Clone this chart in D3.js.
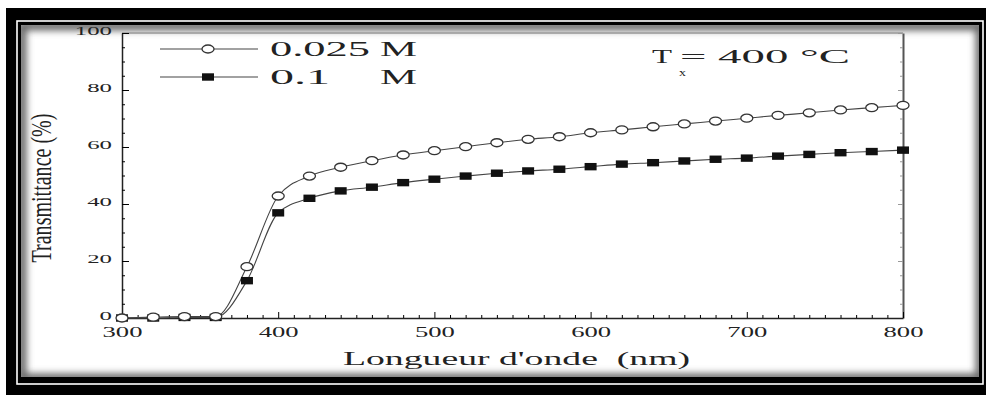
<!DOCTYPE html>
<html>
<head>
<meta charset="utf-8">
<script src="https://cdn.jsdelivr.net/npm/d3@7"></script>
<style>
  body { margin: 0; background: #fff; }
  text { font-family: "Liberation Serif", "DejaVu Serif", serif; fill: #222; white-space: pre; }
</style>
</head>
<body>
<svg id="drawing_region"></svg>
<script>
// wavelength (nm) and transmittance (%)
const wavelengths = [ 300, 320, 340, 360, 380, 400, 420, 440, 460, 480, 500, 520, 540,
                      560, 580, 600, 620, 640, 660, 680, 700, 720, 740, 760, 780, 800 ];
const trans_0025 = [ 0, 0.3, 0.5, 0.5, 18.0, 42.8, 49.8, 52.9, 55.2, 57.2, 58.7, 60.1, 61.5,
                     62.7, 63.6, 65.0, 66.0, 67.1, 68.1, 69.1, 70.1, 71.1, 72.0, 73.0, 73.8, 74.6 ];
const trans_01   = [ 0, 0, 0.2, 0.2, 13.1, 36.9, 42.0, 44.6, 45.9, 47.5, 48.7, 49.8, 50.8,
                     51.6, 52.2, 53.1, 54.0, 54.5, 55.1, 55.7, 56.1, 56.8, 57.4, 58.0, 58.4, 58.9 ];
const series_names = [ "0.025", "0.1" ];
const x_ticks = [ 300, 400, 500, 600, 700, 800 ];
const y_ticks = [ 0, 20, 40, 60, 80, 100 ];

var config = {
    parent: '#drawing_region',
    width: 986,
    height: 395,
    margin: { top:33, right:83, bottom:77, left:122 }
};

const svg = d3.select( config.parent )
    .attr( 'width', config.width )
    .attr( 'height', config.height );

// ---- frame: black border, white line, panel with inner shadow
svg.append( 'rect' )
    .attr( 'x', 6 ).attr( 'y', 8 )
    .attr( 'width', 1000 ).attr( 'height', 400 )
    .attr( 'fill', '#000' );
svg.append( 'rect' )
    .attr( 'x', 17 ).attr( 'y', 21 )
    .attr( 'width', 966 ).attr( 'height', 363 )
    .attr( 'fill', 'none' )
    .attr( 'stroke', '#fff' ).attr( 'stroke-width', 1.6 );

const panel = { x:21, y:25, w:958, h:352 };
const defs = svg.append( 'defs' );
defs.append( 'clipPath' ).attr( 'id', 'panel_clip' )
    .append( 'rect' )
    .attr( 'x', panel.x ).attr( 'y', panel.y )
    .attr( 'width', panel.w ).attr( 'height', panel.h );
defs.append( 'filter' ).attr( 'id', 'soft' )
    .attr( 'x', '-5%' ).attr( 'y', '-5%' ).attr( 'width', '110%' ).attr( 'height', '110%' )
    .append( 'feGaussianBlur' ).attr( 'stdDeviation', 3.5 );

svg.append( 'rect' )
    .attr( 'x', panel.x ).attr( 'y', panel.y )
    .attr( 'width', panel.w ).attr( 'height', panel.h )
    .attr( 'fill', '#fff' );
svg.append( 'g' )
    .attr( 'clip-path', 'url(#panel_clip)' )
    .append( 'rect' )
    .attr( 'x', panel.x + 1 ).attr( 'y', panel.y + 1 )
    .attr( 'width', panel.w ).attr( 'height', panel.h )
    .attr( 'fill', 'none' )
    .attr( 'stroke', '#666' ).attr( 'stroke-width', 9 )
    .attr( 'filter', 'url(#soft)' );

// ---- chart
const inner_width = config.width - config.margin.left - config.margin.right;
const inner_height = config.height - config.margin.top - config.margin.bottom;

const chart = svg.append( 'g' )
    .attr( 'transform', `translate(${config.margin.left}, ${config.margin.top})` );

const xscale = d3.scaleLinear()
    .domain( [ 300, 800 ] )
    .range( [ 0, inner_width ] );

const yscale = d3.scaleLinear()
    .domain( [ 0, 100 ] )
    .range( [ inner_height, 0 ] );

// minor ticks: every 10 nm and every 5 %
const x_minor = xscale.ticks( 50 ).filter( v => x_ticks.indexOf( v ) < 0 );
const y_minor = yscale.ticks( 20 ).filter( v => y_ticks.indexOf( v ) < 0 );

function stretch( sel, per_char ) {
    sel.attr( 'textLength', function() { return this.textContent.length * per_char; } )
       .attr( 'lengthAdjust', 'spacingAndGlyphs' );
}

// top and right frame lines
chart.append( 'line' )
    .attr( 'x1', 0 ).attr( 'x2', inner_width )
    .attr( 'y1', 0 ).attr( 'y2', 0 )
    .attr( 'stroke', '#999' ).attr( 'stroke-width', 1.5 );

const right_group = chart.append( 'g' )
    .attr( 'transform', `translate(${inner_width}, 0)` );
right_group.call( d3.axisRight( yscale ).tickValues( y_ticks ).tickFormat( '' )
    .tickSizeInner( -5 ).tickSizeOuter( 0 ) );
right_group.append( 'g' )
    .call( d3.axisRight( yscale ).tickValues( y_minor ).tickFormat( '' )
        .tickSizeInner( -3 ).tickSizeOuter( 0 ) )
    .select( '.domain' ).remove();
right_group.selectAll( 'line' ).attr( 'stroke', '#999' );
right_group.select( '.domain' ).attr( 'stroke', '#555' ).attr( 'stroke-width', 2 );

// x axis
const xaxis_group = chart.append( 'g' )
    .attr( 'transform', `translate(0, ${inner_height})` );
xaxis_group.call( d3.axisBottom( xscale )
    .tickValues( x_ticks )
    .tickFormat( d3.format( 'd' ) )
    .tickSizeInner( -6 ).tickSizeOuter( 0 ).tickPadding( 8 ) );
xaxis_group.append( 'g' )
    .call( d3.axisBottom( xscale ).tickValues( x_minor ).tickFormat( '' )
        .tickSizeInner( -3 ).tickSizeOuter( 0 ) )
    .select( '.domain' ).remove();
xaxis_group.selectAll( 'text' )
    .attr( 'font-size', 15 ).attr( 'fill', '#333' )
    .call( stretch, 13.3 );

// y axis
const yaxis_group = chart.append( 'g' );
yaxis_group.call( d3.axisLeft( yscale )
    .tickValues( y_ticks )
    .tickSizeInner( -7 ).tickSizeOuter( 0 ).tickPadding( 10 ) );
yaxis_group.append( 'g' )
    .call( d3.axisLeft( yscale ).tickValues( y_minor ).tickFormat( '' )
        .tickSizeInner( -3 ).tickSizeOuter( 0 ) )
    .select( '.domain' ).remove();
yaxis_group.selectAll( 'text' )
    .attr( 'font-size', 13 ).attr( 'fill', '#333' )
    .attr( 'dy', '0.12em' )
    .call( stretch, 12.4 );

xaxis_group.selectAll( '.domain' ).attr( 'stroke', '#222' ).attr( 'stroke-width', 1.5 );
yaxis_group.selectAll( '.domain' ).attr( 'stroke', '#222' ).attr( 'stroke-width', 1.5 );
chart.selectAll( '.tick line' ).attr( 'stroke-width', 1 );

// series
const series = [
    { name: series_names[0], values: trans_0025, symbol: 'circle' },
    { name: series_names[1], values: trans_01, symbol: 'square' }
];
series.forEach( s => {
    s.points = wavelengths.map( ( w, i ) => ( { x: w, y: s.values[i] } ) );
} );

const line = d3.line()
    .x( d => xscale( d.x ) )
    .y( d => yscale( d.y ) )
    .curve( d3.curveMonotoneX );

chart.selectAll( '.series_line' )
    .data( series )
    .join( 'path' )
    .attr( 'class', 'series_line' )
    .attr( 'd', d => line( d.points ) )
    .attr( 'fill', 'none' )
    .attr( 'stroke', '#444' )
    .attr( 'stroke-width', 1.1 );

function draw_marker( sel, symbol ) {
    if ( symbol === 'circle' ) {
        sel.append( 'ellipse' )
            .attr( 'rx', 6 ).attr( 'ry', 4 )
            .attr( 'fill', '#fff' )
            .attr( 'stroke', '#333' ).attr( 'stroke-width', 1.3 );
    } else {
        sel.append( 'rect' )
            .attr( 'x', -6 ).attr( 'y', -3.7 )
            .attr( 'width', 12 ).attr( 'height', 7.4 )
            .attr( 'fill', '#111' );
    }
}

// squares first, open circles on top
[ series[1], series[0] ].forEach( s => {
    chart.append( 'g' )
        .selectAll( 'g' )
        .data( s.points )
        .join( 'g' )
        .attr( 'transform', d => `translate(${xscale( d.x )}, ${yscale( d.y )})` )
        .call( draw_marker, s.symbol );
} );

// legend
const legend = svg.append( 'g' );
series.forEach( ( s, i ) => {
    const ly = 49 + i * 28;
    legend.append( 'line' )
        .attr( 'x1', 160 ).attr( 'x2', 258 )
        .attr( 'y1', ly ).attr( 'y2', ly )
        .attr( 'stroke', '#444' ).attr( 'stroke-width', 1.1 );
    legend.append( 'g' )
        .attr( 'transform', `translate(208, ${ly})` )
        .call( draw_marker, s.symbol );
    legend.append( 'text' )
        .attr( 'x', 270 ).attr( 'y', ly + 6.5 )
        .attr( 'font-size', 20 )
        .text( s.name )
        .call( stretch, 20 );
    legend.append( 'text' )
        .attr( 'x', 380 ).attr( 'y', ly + 6.5 )
        .attr( 'font-size', 20 )
        .text( 'M' )
        .call( stretch, 37 );
} );

// annotation
svg.append( 'text' )
    .attr( 'x', 652 ).attr( 'y', 63 )
    .attr( 'font-size', 18 )
    .text( 'T' )
    .call( stretch, 20 );
svg.append( 'text' )
    .attr( 'x', 679 ).attr( 'y', 76 )
    .attr( 'font-size', 11 )
    .text( 'x' )
    .call( stretch, 7 );
svg.append( 'text' )
    .attr( 'x', 680 ).attr( 'y', 63 )
    .attr( 'font-size', 18 )
    .attr( 'textLength', 170 ).attr( 'lengthAdjust', 'spacingAndGlyphs' )
    .text( '= 400 °C' );

// axis titles
svg.append( 'text' )
    .attr( 'x', 343 ).attr( 'y', 365 )
    .attr( 'font-size', 19 )
    .attr( 'textLength', 347 ).attr( 'lengthAdjust', 'spacingAndGlyphs' )
    .text( "Longueur d'onde  (nm)" );

svg.append( 'text' )
    .attr( 'transform', 'translate(51, 188) rotate(-90)' )
    .attr( 'text-anchor', 'middle' )
    .attr( 'font-size', 30 )
    .attr( 'textLength', 149 ).attr( 'lengthAdjust', 'spacingAndGlyphs' )
    .text( 'Transmittance (%)' );
</script>
</body>
</html>
